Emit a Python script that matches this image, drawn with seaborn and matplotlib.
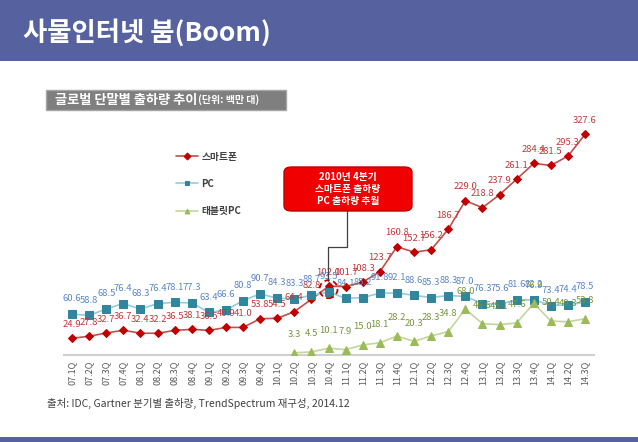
import numpy as np
import pandas as pd
import matplotlib
matplotlib.use("Agg")
import matplotlib.pyplot as plt
import seaborn as sns
from matplotlib.patches import Rectangle, Circle, FancyBboxPatch
from matplotlib.lines import Line2D
from matplotlib.transforms import ScaledTranslation

quarters = ["07.1Q", "07.2Q", "07.3Q", "07.4Q", "08.1Q", "08.2Q", "08.3Q", "08.4Q",
            "09.1Q", "09.2Q", "09.3Q", "09.4Q", "10.1Q", "10.2Q", "10.3Q", "10.4Q",
            "11.1Q", "11.2Q", "11.3Q", "11.4Q", "12.1Q", "12.2Q", "12.3Q", "12.4Q",
            "13.1Q", "13.2Q", "13.3Q", "13.4Q", "14.1Q", "14.2Q", "14.3Q"]
smartphone = [24.9, 27.8, 32.7, 36.7, 32.4, 32.2, 36.5, 38.1,
              36.5, 40.9, 41.0, 53.8, 54.5, 64.4, 82.8, 102.0,
              101.7, 108.3, 123.7, 160.8, 152.7, 156.2, 186.7, 229.0,
              218.8, 237.9, 261.1, 284.4, 281.5, 295.3, 327.6]
pc = [60.6, 58.8, 68.5, 76.4, 68.3, 76.4, 78.1, 77.3,
      63.4, 66.6, 80.8, 90.7, 84.3, 83.3, 88.7, 93.5,
      84.1, 85.2, 91.8, 92.1, 88.6, 85.3, 88.3, 87.0,
      76.3, 75.6, 81.6, 82.2, 73.4, 74.4, 78.5]
tablet_start = "10.2Q"
tablet = [3.3, 4.5, 10.1, 7.9, 15.0, 18.1, 28.2, 20.3, 28.3, 34.8,
          68.0, 46.6, 45.1, 47.6, 76.9, 50.4, 49.3, 53.8]
series_names = ["스마트폰", "PC", "태블릿PC"]

sns.set_theme(style="white")
plt.rcParams["font.family"] = ["Noto Sans CJK KR", "DejaVu Sans"]

df = pd.DataFrame({"quarter": quarters, "idx": np.arange(len(quarters)),
                   "스마트폰": smartphone, "PC": pc})
t0 = quarters.index(tablet_start)
df["태블릿PC"] = [np.nan] * t0 + tablet

W, H = 638, 442
fig = plt.figure(figsize=(W / 100, H / 100), dpi=100)

def fx(x):
    return x / W

def fy(y):
    return 1 - y / H

ax = fig.add_axes([fx(63.5), fy(355), (593.6 - 63.5) / W, (355 - 126) / H])
ax.patch.set_alpha(0)

# header bar
fig.patches.append(Rectangle((0, fy(61)), 1, 61 / H, transform=fig.transFigure,
                             facecolor="#56629f", edgecolor="none", zorder=0))
fig.text(fx(23), fy(33), "사물인터넷 붐(Boom)", color="white", fontsize=19,
         fontweight="bold", va="center", ha="left")
# bottom bar
fig.patches.append(Rectangle((0, 0), 1, 5 / H, transform=fig.transFigure,
                             facecolor="#56629f", edgecolor="none", zorder=0))

# chart title box
fig.patches.append(Rectangle((fx(46), fy(110)), 240 / W, 20 / H, transform=fig.transFigure,
                             facecolor="#7f7f7f", edgecolor="#a6a6a6", zorder=0))
t1 = fig.text(fx(55), fy(100), "글로벌 단말별 출하량 추이", color="white", fontsize=9.5,
              fontweight="bold", va="center", ha="left", zorder=2)
fig.canvas.draw()
bb = t1.get_window_extent(renderer=fig.canvas.get_renderer())
fig.text(bb.x1 / W + fx(1), fy(100), "(단위: 백만 대)", color="white", fontsize=7.2,
         fontweight="bold", va="center", ha="left", zorder=2)

styles = {
    "스마트폰": dict(line="#c0504d", mk="#c00000", marker="D", ms=4.5, lab="#c0393b", off=10),
    "PC": dict(line="#93cddd", mk="#31859c", marker="s", ms=5.5, lab="#5a86c8", off=11),
    "태블릿PC": dict(line="#c3d69b", mk="#9bbb59", marker="^", ms=6, lab="#77933c", off=13),
}
for name in series_names:
    s = styles[name]
    sns.lineplot(data=df, x="idx", y=name, ax=ax, color=s["line"], linewidth=1.2,
                 marker=s["marker"], markersize=s["ms"], markerfacecolor=s["mk"],
                 markeredgecolor=s["mk"], label=name, zorder=3)
    for i, v in zip(df["idx"], df[name]):
        if pd.isna(v):
            continue
        ax.annotate(f"{v:.1f}", (i, v), xytext=(0, s["off"]), textcoords="offset points",
                    ha="center", va="center", fontsize=6.8, color=s["lab"],
                    annotation_clip=False, zorder=4)

ax.set_xlim(-0.5, len(quarters) - 0.5)
ax.set_ylim(0, 340)
ax.set_xticks(df["idx"])
ax.set_xticklabels(quarters, rotation=90, fontsize=6.5, color="#595959")
ax.tick_params(axis="x", length=0, pad=4)
ax.set_yticks([])
ax.set_xlabel("")
ax.set_ylabel("")
for sp in ["top", "left", "right"]:
    ax.spines[sp].set_visible(False)
ax.spines["bottom"].set_color("#d0d0d0")
ax.spines["bottom"].set_linewidth(1.5)

handles, labels = ax.get_legend_handles_labels()
ax.legend_.remove()
leg = fig.legend(handles, labels, loc="upper left", bbox_to_anchor=(fx(172), fy(148)),
                 frameon=False, fontsize=7, labelspacing=1.75, handlelength=2.3,
                 handletextpad=0.3, borderaxespad=0)
for txt in leg.get_texts():
    txt.set_color("#404040")
    txt.set_fontweight("bold")
for h in leg.legend_handles:
    h.set_markersize(3.5)

# highlight circle at 10.4Q
ci = quarters.index("10.4Q")
cy = (smartphone[ci] + pc[ci]) / 2
circ = Circle((0, 0), radius=0.09, transform=fig.dpi_scale_trans +
              ScaledTranslation(ci, cy, ax.transData), facecolor="none",
              edgecolor="#c00000", linestyle=(0, (3, 2)), linewidth=1.3, zorder=5)
ax.add_artist(circ)
circ.set_clip_on(False)

# connector line (figure pixel coordinates)
xs = [328, 328, 347, 347]
ys = [281, 247, 247, 211]
fig.lines.append(Line2D([fx(x) for x in xs], [fy(y) for y in ys], transform=fig.transFigure,
                        color="#404040", linewidth=0.9, zorder=2))
# callout box
fig.patches.append(FancyBboxPatch((fx(284), fy(211)), 128 / W, 44 / H,
                                  boxstyle="round,pad=0,rounding_size=0.012",
                                  transform=fig.transFigure, facecolor="#f00000",
                                  edgecolor="#c00000", linewidth=1.0, zorder=3))
fig.text(fx(348), fy(189), "2010년 4분기\n스마트폰 출하량\nPC 출하량 추월", color="white",
         fontsize=7, fontweight="bold", ha="center", va="center", linespacing=1.25, zorder=4)

# source
fig.text(fx(47), fy(403), "출처: IDC, Gartner 분기별 출하량, TrendSpectrum 재구성, 2014.12",
         fontsize=7.5, color="#404040", ha="left", va="center")

fig.savefig("out.png", dpi=100)
